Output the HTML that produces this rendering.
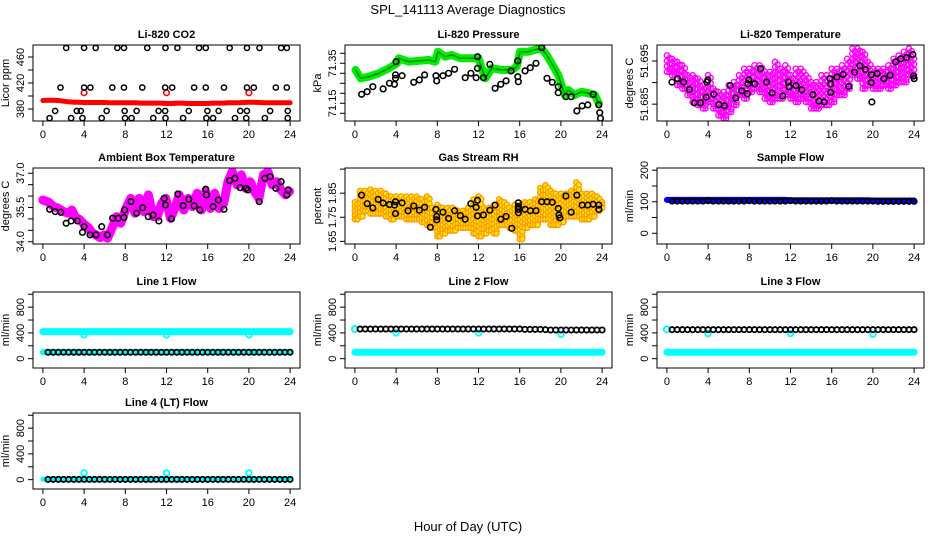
<!DOCTYPE html>
<html><head><meta charset="utf-8"><style>
html,body{margin:0;padding:0;background:#fff;}
svg{display:block;font-family:"Liberation Sans",Arial,sans-serif;}
</style></head><body>
<svg id="chart" width="936" height="540" viewBox="0 0 936 540" xmlns="http://www.w3.org/2000/svg">
<rect x="0" y="0" width="936" height="540" fill="#fff"/>
<text x="468" y="14" font-size="13" text-anchor="middle">SPL_141113  Average Diagnostics</text>
<text x="468" y="531" font-size="13" text-anchor="middle">Hour of Day (UTC)</text>
</svg>
<script>
// ---------- shared grids ----------
const gridHours=[0,0.5,1,1.5,2,2.5,3,3.5,4,4.5,5,5.5,6,6.5,7,7.5,8,8.5,9,9.5,10,10.5,11,11.5,12,12.5,13,13.5,14,14.5,15,15.5,16,16.5,17,17.5,18,18.5,19,19.5,20,20.5,21,21.5,22,22.5,23,23.5,24];
const halfHours=[0.5,1,1.5,2,2.5,3,3.5,4,4.5,5,5.5,6,6.5,7,7.5,8,8.5,9,9.5,10,10.5,11,11.5,12,12.5,13,13.5,14,14.5,15,15.5,16,16.5,17,17.5,18,18.5,19,19.5,20,20.5,21,21.5,22,22.5,23,23.5,24];
const xTicks=[0,4,8,12,16,20,24];
const dipHours=[4,12,20];

// ---------- CO2 ----------
const co2BlackHours=[2.26,4.0,5.13,7.23,7.87,10.13,11.9,13.06,15.16,15.81,18.13,19.81,21.03,23.13,23.68,1.71,4,4.61,6.74,7.87,9.65,11.87,12.55,14.68,15.81,17.58,19.81,20.48,22.61,23.68,1.19,3.29,3.68,6.19,7.94,9.1,11.23,11.87,14.16,15.97,17.06,19.16,19.81,22.06,23.77,0.65,2.74,3.84,5.71,7.97,8.61,10.71,11.9,13.61,15.87,16.52,18.65,19.74,21.55,23.77];
const co2BlackVals=[474,474,474,474,474,474,474,474,474,474,474,474,474,474,474,413,413,413,413,413,413,413,413,413,413,413,413,413,413,413,377,377,377,377,377,377,377,377,377,377,377,377,377,377,377,366,366,366,366,366,366,366,366,366,366,366,366,366,366,366];
const co2RedVals=[393,393.5,393.5,393,392,391,390.5,390.5,390,390,390,390,390,389.5,389.5,389.5,389.5,389.5,389.5,389,389,389,389,389,388.5,388.5,389,389,388.5,388.5,388.5,388.5,388.5,389,389,389,389.5,389.5,389.5,390,390.5,390.5,390,389.5,389.5,389.5,389.5,389.5,389.5];
const co2DipVals=[405,405,405];

// ---------- Pressure ----------
const presGreenHours=[0.06,0.55,1.35,2.32,3.29,4.1,4.26,5.23,6.19,7.16,7.81,8.06,8.77,9.42,10.23,11.03,12,12.32,12.65,13.29,14.26,15.23,15.71,16.03,16.84,17.48,18.13,18.61,19.1,19.74,20.06,20.39,20.71,21.35,22,22.65,23.29,23.68];
const presGreenVals=[71.317,71.275,71.283,71.30,71.325,71.35,71.375,71.358,71.362,71.367,71.358,71.408,71.383,71.392,71.375,71.375,71.375,71.325,71.275,71.325,71.317,71.317,71.333,71.408,71.408,71.417,71.425,71.392,71.35,71.292,71.242,71.192,71.217,71.192,71.208,71.20,71.192,71.15];
const presBlackHours=[0.65,1.19,1.74,2.74,3.35,3.84,3.94,3.94,4.0,4.58,5.71,6.26,6.77,7.87,7.94,8.55,9.1,9.68,10.71,11.26,11.77,11.9,11.9,12.48,13.1,13.61,14.16,14.68,15.16,15.81,15.87,15.81,16.52,17.03,17.58,18.13,18.65,19.16,19.74,19.74,20.48,21,21.55,22.06,22.61,23.13,23.68,23.77,23.84];
const presBlackVals=[71.195,71.208,71.233,71.222,71.25,71.245,71.275,71.292,71.358,71.288,71.255,71.267,71.292,71.288,71.262,71.288,71.30,71.32,71.278,71.30,71.278,71.325,71.383,71.278,71.345,71.225,71.245,71.262,71.312,71.283,71.258,71.362,71.312,71.328,71.35,71.428,71.275,71.255,71.233,71.203,71.183,71.183,71.112,71.137,71.142,71.195,71.142,71.103,71.075];

// ---------- Li-820 temperature ----------
const tempBandHi=[51.6963,51.6955,51.6948,51.6940,51.6917,51.6917,51.6909,51.6894,51.6917,51.6886,51.6878,51.6878,51.6894,51.6901,51.6917,51.6932,51.6932,51.6940,51.6940,51.6925,51.6925,51.6948,51.6932,51.6940,51.6917,51.6932,51.6932,51.6917,51.6901,51.6901,51.6917,51.6917,51.6932,51.6932,51.6940,51.6955,51.6979,51.6979,51.6971,51.6948,51.6932,51.6932,51.6932,51.6940,51.6955,51.6963,51.6971,51.6979,51.6955];
const tempBandLo=[51.6925,51.6917,51.6894,51.6886,51.6871,51.6855,51.6848,51.6840,51.6855,51.6840,51.6824,51.6817,51.6832,51.6848,51.6871,51.6863,51.6878,51.6886,51.6878,51.6863,51.6855,51.6863,51.6863,51.6871,51.6863,51.6855,51.6863,51.6855,51.6840,51.6840,51.6848,51.6848,51.6855,51.6871,51.6871,51.6886,51.6917,51.6909,51.6886,51.6894,51.6886,51.6886,51.6894,51.6886,51.6894,51.6901,51.6901,51.6917,51.6917];
const tempBlackHours=[0.49,1.04,1.63,2.18,2.67,3.26,3.81,3.88,3.97,4.56,5.05,5.6,6.16,6.68,7.26,7.82,7.88,7.95,8.53,9.09,9.67,10.2,11.24,11.79,11.86,12.54,13.09,14.17,14.76,15.28,15.83,15.9,15.9,16.51,17.1,17.65,18.21,18.73,19.28,19.84,19.84,19.9,20.42,21.07,21.66,22.18,22.7,23.26,23.88,23.94,24.0];
const tempBlackVals=[51.6901,51.6909,51.6901,51.6884,51.6853,51.6853,51.6866,51.6901,51.6906,51.6873,51.6849,51.6846,51.6893,51.6864,51.6881,51.6874,51.6897,51.6906,51.6897,51.6932,51.6901,51.6876,51.6869,51.6901,51.6890,51.6893,51.6883,51.6872,51.6857,51.6855,51.6909,51.6897,51.6877,51.6913,51.6919,51.6891,51.6924,51.6939,51.6930,51.6918,51.6900,51.6855,51.6921,51.6909,51.6917,51.6948,51.6955,51.6958,51.6965,51.6915,51.6909];

// ---------- Ambient box temperature ----------
const ambMagHours=[0,0.55,1.03,1.52,2,2.48,2.81,3.13,3.61,4.1,4.42,4.74,5.06,5.55,5.94,6.26,6.77,7.16,7.55,8.06,8.52,8.94,9.35,9.81,10.23,10.71,11.1,11.52,11.94,12.39,12.81,13.23,13.68,14.1,14.52,14.97,15.39,15.81,16.26,16.68,17.1,17.55,17.97,18.39,18.84,19.26,19.68,20.13,20.55,20.97,21.42,21.84,22.26,22.71,23.13,23.55,23.94];
const ambMagVals=[35.83,35.73,35.54,35.46,35.32,35.25,35.39,35.10,34.95,34.73,34.62,34.41,34.32,34.18,34.30,34.15,34.66,35.10,34.81,35.46,35.90,35.25,35.90,35.32,36.05,35.10,35.10,35.68,35.90,35.03,35.46,36.05,35.39,35.90,35.54,36.12,35.39,36.20,35.46,36.12,35.46,35.68,36.63,37.07,36.49,36.93,36.34,36.63,36.20,35.90,36.93,37.07,36.49,36.63,36.27,36.05,36.20];
const ambBlackHours=[0.65,1.19,1.74,2.26,2.74,3.35,3.84,4,4.58,5.16,5.71,6.26,6.77,7.32,7.87,7.94,8.55,9.1,9.68,10.23,10.71,11.26,11.77,11.9,12.48,13.1,13.61,14.16,14.68,15.23,15.81,15.87,16.52,17.03,17.58,18.13,18.65,19.16,19.74,19.9,21,21.55,22.06,22.61,23.13,23.68,23.81];
const ambBlackVals=[35.42,35.32,35.29,34.81,34.91,34.91,34.41,34.66,34.30,34.30,34.66,34.30,35.03,35.03,35.06,35.39,35.76,35.25,35.49,35.10,35.17,34.91,35.90,35.61,35.0,36.09,35.58,35.86,35.57,35.39,36.30,36.05,35.54,35.83,35.42,36.68,36.78,36.37,36.34,36.27,35.76,36.78,36.85,36.34,36.63,36.05,36.27];

// ---------- Gas stream RH ----------
const rhBandHi=[1.8124,1.8594,1.8594,1.8653,1.8594,1.8594,1.8476,1.8359,1.8359,1.8359,1.8359,1.8359,1.8359,1.8241,1.8359,1.7888,1.8006,1.7888,1.7888,1.7888,1.7771,1.7771,1.7888,1.8241,1.8359,1.7888,1.7888,1.8006,1.8241,1.8124,1.7888,1.8006,1.8006,1.8124,1.8124,1.8241,1.8712,1.883,1.8594,1.8476,1.8476,1.8476,1.8594,1.8947,1.8476,1.8476,1.8476,1.8359,1.8124];
const rhBandLo=[1.7418,1.7535,1.7771,1.7653,1.7653,1.7653,1.7535,1.7418,1.7535,1.7535,1.7418,1.7418,1.7418,1.73,1.7182,1.7065,1.6712,1.6829,1.6947,1.6947,1.7065,1.7065,1.7065,1.6829,1.6712,1.6829,1.6947,1.6829,1.7182,1.7182,1.7065,1.6947,1.6594,1.7065,1.7182,1.7182,1.7418,1.7418,1.7182,1.7182,1.73,1.7535,1.7535,1.7535,1.7418,1.7418,1.7535,1.7771,1.7888];
const rhBlackHours=[0.65,1.19,1.74,2.26,2.74,3.35,3.84,3.94,3.94,4.58,5.16,5.71,6.26,6.77,7.32,7.87,7.94,7.94,8.55,9.1,9.68,10.23,10.71,11.26,11.77,11.9,11.9,12.48,13.1,13.61,14.16,14.68,15.23,15.87,15.87,15.87,15.87,16.52,17.03,17.58,18.13,18.65,19.16,19.74,19.81,19.9,20.48,21,21.55,22.06,22.61,23.13,23.68,23.68];
const rhBlackVals=[1.8418,1.8065,1.7888,1.8241,1.8088,1.8029,1.8006,1.8147,1.7653,1.81,1.7771,1.7971,1.7794,1.7912,1.7088,1.7829,1.7535,1.7394,1.7712,1.7453,1.7771,1.7571,1.7418,1.8065,1.7912,1.8206,1.7559,1.7594,1.7794,1.8006,1.7418,1.7535,1.7041,1.81,1.7947,1.7829,1.7688,1.7829,1.7771,1.7771,1.8147,1.8147,1.8124,1.7865,1.7594,1.7476,1.8382,1.7712,1.8418,1.8006,1.8006,1.8041,1.8006,1.7829];

// ---------- Sample flow ----------
const sampleBlueVals=[106,106,106,106,106,106,106,106,106,106,106,106,106,106,106,106,106,106,106,106,106,106,106,106,105,105,105,105,105,105,105,105,105,105,105,105,105,105,105,105,104,104,104,104,104,104,104,104,104];
const sampleBlackVals=[102,102,102,102,102,102,102,103,102,102,102,102,102,102,102,103,102,102,102,102,102,102,102,103,102,102,102,102,102,102,102,103,102,102,102,102,102,102,102,102,101,101,101,101,101,101,101,101];

// ---------- Line flows ----------
const line1CyanHiVals=[420,420,420,420,420,420,420,420,420,420,420,420,420,420,420,420,420,420,420,420,420,420,420,420,420,420,420,420,420,420,420,420,420,420,420,420,420,420,420,420,420,420,420,420,420,420,420,420,420];
const line1CyanLoVals=[100,100,100,100,100,100,100,100,100,100,100,100,100,100,100,100,100,100,100,100,100,100,100,100,100,100,100,100,100,100,100,100,100,100,100,100,100,100,100,100,100,100,100,100,100,100,100,100,100];
const line1BlackVals=[100,100,100,100,100,100,100,100,100,100,100,100,100,100,100,100,100,100,100,100,100,100,100,100,100,100,100,100,100,100,100,100,100,100,100,100,100,100,100,100,100,100,100,100,100,100,100,100];
const line1DipVals=[370,370,370];
const line2CyanLoVals=[100,100,100,100,100,100,100,100,100,100,100,100,100,100,100,100,100,100,100,100,100,100,100,100,100,100,100,100,100,100,100,100,100,100,100,100,100,100,100,100,100,100,100,100,100,100,100,100,100];
const line2BlackVals=[460,460,460,460,460,460,460,460,460,460,460,460,460,460,460,460,460,460,460,460,460,460,460,460,460,460,460,460,460,460,460,460,455,455,455,455,450,445,445,445,445,445,445,445,445,445,445,445];
const line2DipVals=[400,400,380];
const line3CyanLoVals=[100,100,100,100,100,100,100,100,100,100,100,100,100,100,100,100,100,100,100,100,100,100,100,100,100,100,100,100,100,100,100,100,100,100,100,100,100,100,100,100,100,100,100,100,100,100,100,100,100];
const line3BlackVals=[450,450,450,450,450,450,450,450,450,450,450,450,450,450,450,450,450,450,450,450,450,450,450,450,450,450,450,450,450,450,450,450,450,450,450,450,450,450,450,450,450,450,450,450,450,450,450,450];
const line3DipVals=[390,390,380];
const line4CyanVals=[5,5,5,5,5,5,5,5,5,5,5,5,5,5,5,5,5,5,5,5,5,5,5,5,5,5,5,5,5,5,5,5,5,5,5,5,5,5,5,5,5,5,5,5,5,5,5,5,5];
const line4BlackVals=[5,5,5,5,5,5,5,5,5,5,5,5,5,5,5,5,5,5,5,5,5,5,5,5,5,5,5,5,5,5,5,5,5,5,5,5,5,5,5,5,5,5,5,5,5,5,5,5];
const line4DipVals=[105,105,105];

// ---------- drawing ----------
const NS='http://www.w3.org/2000/svg';
const svg=document.getElementById('chart');
function mk(tag,attrs,parent){const e=document.createElementNS(NS,tag);for(const k in attrs)e.setAttribute(k,attrs[k]);(parent||svg).appendChild(e);return e;}
const colX=[33,345,657], rowY=[45,168,292,413], PW=267, PH=76;
const XLO=-0.96, XHI=24.96;

function panel(col,row,ylim,yticks,ylabels,title,ytitle,name){
  const x0=colX[col], y0=rowY[row];
  const g=mk('g',{});
  
  
  const sx=h=>x0+(h-XLO)/(XHI-XLO)*PW;
  const sy=v=>y0+PH-(v-ylim[0])/(ylim[1]-ylim[0])*PH;
  const clipId='clip-'+name;
  const cp=mk('clipPath',{id:clipId},g);
  mk('rect',{x:x0,y:y0,width:PW,height:PH},cp);
  const plot=mk('g',{'clip-path':'url(#'+clipId+')'},g);
  
  
  const t=mk('text',{x:x0+PW/2,y:y0-7,'font-size':11,'font-weight':'bold','text-anchor':'middle'},g);
  t.textContent=title;
  
  
  const yt=mk('text',{x:0,y:0,'font-size':11,'text-anchor':'middle',transform:'translate('+(x0-24)+','+(y0+PH/2)+') rotate(-90)'},g);
  yt.textContent=ytitle;
  
  
  xTicks.forEach(h=>{
    const tk=mk('line',{x1:sx(h),x2:sx(h),y1:y0+PH,y2:y0+PH+5,stroke:'#000','stroke-width':1},g);
    
    
    const lb=mk('text',{x:sx(h),y:y0+PH+17,'font-size':11,'text-anchor':'middle'},g);
    lb.textContent=String(h);
    
    
  });
  yticks.forEach((v,i)=>{
    const tk=mk('line',{x1:x0-5,x2:x0,y1:sy(v),y2:sy(v),stroke:'#000','stroke-width':1},g);
    
    
    if(ylabels[i]){
      const lb=mk('text',{x:0,y:0,'font-size':11,'text-anchor':'middle',transform:'translate('+(x0-9)+','+sy(v)+') rotate(-90)'},g);
      lb.textContent=ylabels[i];
      
      
    }
  });
  const box=mk('rect',{x:x0,y:y0,width:PW,height:PH,fill:'none',stroke:'#000','stroke-width':1},g);
  
  
  return {sx,sy,plot,name};
}
function points(p,hours,vals,color,r,sw,nm,fill){
  hours.forEach((h,i)=>{
    const c=mk('circle',{cx:p.sx(h),cy:p.sy(vals[i]),r:r,fill:fill||'none',stroke:color,'stroke-width':sw},p.plot);
    
    
  });
}
function line(p,hours,vals,color,w,nm){
  const d=hours.map((h,i)=>p.sx(h).toFixed(1)+','+p.sy(vals[i]).toFixed(1)).join(' ');
  const l=mk('polyline',{points:d,fill:'none',stroke:color,'stroke-width':w,'stroke-linejoin':'round','stroke-linecap':'round'},p.plot);
  
  
}
function band(p,hours,hi,lo,color,fill,nm,step,offs){
  hours.forEach((h,i)=>{
    const yh=p.sy(hi[i]), yl=p.sy(lo[i]);
    const n=Math.max(2,Math.ceil((yl-yh)/step));
    offs.forEach((dx,j)=>{
      if(h+dx>24.05) return;
      for(let k=0;k<=n;k++){
        const f=Math.min(1,(k+(j%2)*0.5)/n);
        const c=mk('circle',{cx:p.sx(h+dx),cy:yh+(yl-yh)*f,r:2.6,fill:fill,stroke:color,'stroke-width':1.4},p.plot);
        
        
      }
    });
  });
}

// Panel 1 CO2
let p=panel(0,0,[361.5,478.5],[380,400,420,440,460],['380','','420','','460'],'Li-820 CO2','Licor ppm','co2');
line(p,gridHours,co2RedVals,'#ff0000',5,'co2-red-series');
points(p,dipHours,co2DipVals,'#ff0000',2.8,1.6,'co2-red-point');
points(p,co2BlackHours,co2BlackVals,'#000',2.6,1.5,'co2-black-point');

// Panel 2 Pressure
p=panel(1,0,[71.0615,71.4415],[71.10,71.15,71.20,71.25,71.30,71.35,71.40],['','71.15','','','','71.35',''],'Li-820 Pressure','kPa','pressure');
line(p,presGreenHours,presGreenVals,'#00ee00',8,'pressure-green-series');
line(p,presGreenHours,presGreenVals,'#008800',1.5,'pressure-green-core');
points(p,presBlackHours,presBlackVals,'#000',2.8,1.6,'pressure-black-point');

// Panel 3 Li-820 temperature
p=panel(2,0,[51.6811,51.6987],[51.685,51.690,51.695],['51.685','','51.695'],'Li-820 Temperature','degrees C','licor-temp');
band(p,gridHours,tempBandHi,tempBandLo,'#ff00ff','none','licor-temp-magenta-point',6,[0,0.25]);
points(p,tempBlackHours,tempBlackVals,'#000',2.8,1.6,'licor-temp-black-point');

// Panel 4 Ambient box temperature
p=panel(0,1,[33.9,37.23],[34,34.5,35,35.5,36,36.5,37],['34.0','','','35.5','','','37.0'],'Ambient Box Temperature','degrees C','ambient-temp');
line(p,ambMagHours,ambMagVals,'#ff00ff',9,'ambient-temp-magenta-series');
points(p,ambBlackHours,ambBlackVals,'#000',2.8,1.6,'ambient-temp-black-point');

// Panel 5 RH
p=panel(1,1,[1.639,1.9546],[1.65,1.75,1.85,1.95],['1.65','1.75','1.85',''],'Gas Stream RH','percent','rh');
band(p,gridHours,rhBandHi,rhBandLo,'#ff9900','#ffee00','rh-orange-point',5,[0,0.25]);
points(p,rhBlackHours,rhBlackVals,'#000',2.8,1.6,'rh-black-point');

// Panel 6 Sample flow
p=panel(2,1,[-34,207],[0,50,100,150,200],['0','','100','','200'],'Sample Flow','ml/min','sample-flow');
line(p,gridHours,sampleBlueVals,'#0000ff',6,'sample-flow-blue-series');
points(p,halfHours,sampleBlackVals,'#000',2.6,1.8,'sample-flow-black-point');

// Flow panels
const flowLim=[-145,1035], flowTicks=[0,200,400,600,800,1000], flowLabels=['0','','400','','800',''];
p=panel(0,2,flowLim,flowTicks,flowLabels,'Line 1 Flow','ml/min','line1-flow');
line(p,gridHours,line1CyanHiVals,'#00ffff',7,'line1-cyan-upper');
line(p,gridHours,line1CyanLoVals,'#00ffff',6,'line1-cyan-lower');
points(p,dipHours,line1DipVals,'#00ffff',2.8,1.8,'line1-cyan-dip');
points(p,halfHours,line1BlackVals,'#000',2.6,1.8,'line1-black-point');

p=panel(1,2,flowLim,flowTicks,flowLabels,'Line 2 Flow','ml/min','line2-flow');
line(p,gridHours,line2CyanLoVals,'#00ffff',7,'line2-cyan-lower');
points(p,[0],[460],'#00ffff',3,2,'line2-cyan-start');
points(p,dipHours,line2DipVals,'#00ffff',2.8,1.8,'line2-cyan-dip');
points(p,halfHours,line2BlackVals,'#000',2.6,1.8,'line2-black-point');

p=panel(2,2,flowLim,flowTicks,flowLabels,'Line 3 Flow','ml/min','line3-flow');
line(p,gridHours,line3CyanLoVals,'#00ffff',7,'line3-cyan-lower');
points(p,[0],[455],'#00ffff',3,2,'line3-cyan-start');
points(p,dipHours,line3DipVals,'#00ffff',2.8,1.8,'line3-cyan-dip');
points(p,halfHours,line3BlackVals,'#000',2.6,1.8,'line3-black-point');

p=panel(0,3,flowLim,flowTicks,flowLabels,'Line 4 (LT) Flow','ml/min','line4-flow');
line(p,gridHours,line4CyanVals,'#00ffff',5,'line4-cyan-series');
points(p,dipHours,line4DipVals,'#00ffff',2.8,1.8,'line4-cyan-dip');
points(p,halfHours,line4BlackVals,'#000',2.6,1.8,'line4-black-point');
</script>
</body></html>
